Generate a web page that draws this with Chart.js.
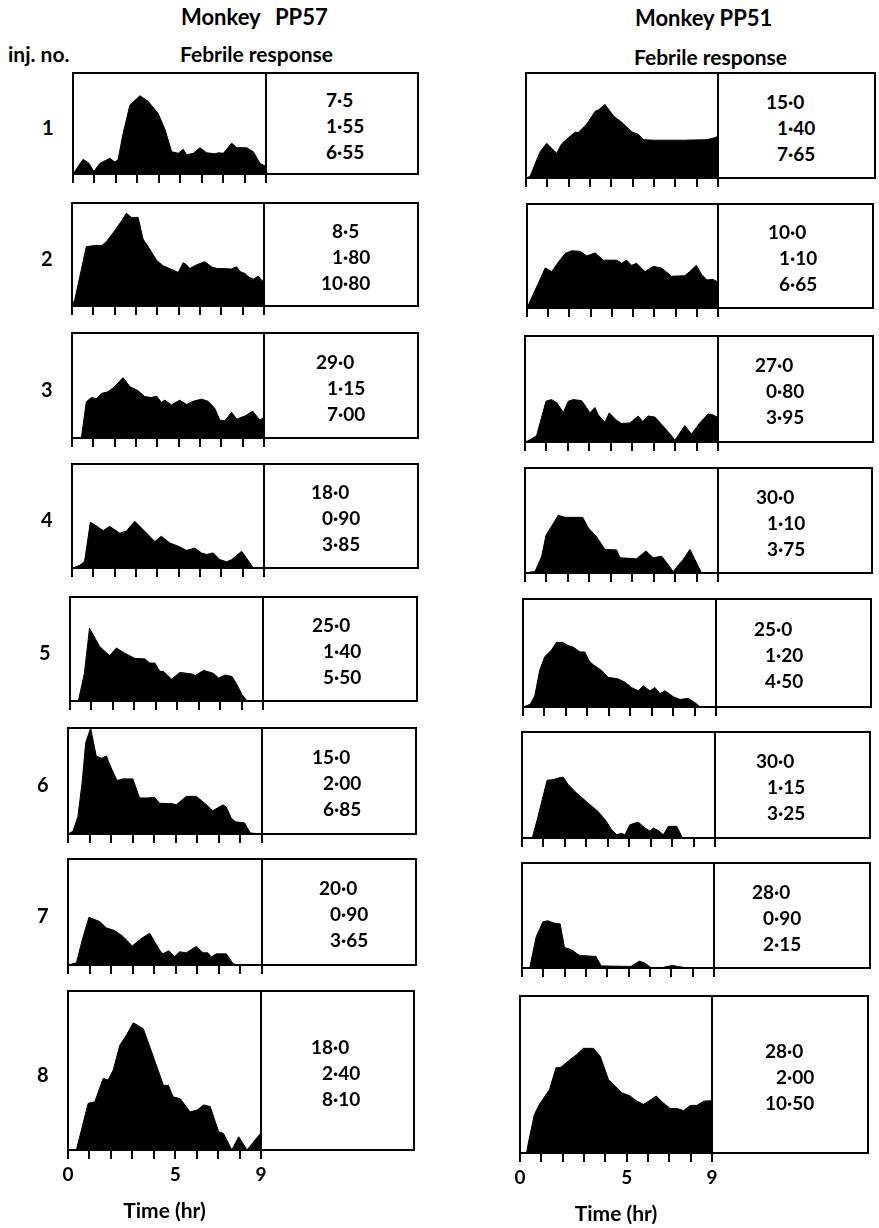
<!DOCTYPE html>
<html>
<head>
<meta charset="utf-8">
<script src="https://cdn.jsdelivr.net/npm/chart.js@4/dist/chart.umd.min.js"></script>
<style>
  html, body { margin: 0; padding: 0; background: #fff; }
  body { width: 879px; height: 1228px; position: relative; overflow: hidden;
         font-family: 'Lato', 'DejaVu Sans', sans-serif; font-weight: 700; color: #000; }
  .txt { position: absolute; white-space: pre; line-height: 22px; }
  .frame { position: absolute; border: 2px solid #000; box-sizing: border-box; }
  .holder { position: absolute; }
</style>
</head>
<body>
<script>
// ---- Data ---------------------------------------------------------------
const injections = ['1', '2', '3', '4', '5', '6', '7', '8'];
const hourTicks = [0, 1, 2, 3, 4, 5, 6, 7, 8, 9];
const labelledHours = [0, 5, 9];

// Figures printed beside each record: dose, peak rise (°C), fever index
const pp57Dose  = [7.5, 8.5, 29.0, 18.0, 25.0, 15.0, 20.0, 18.0];
const pp57Peak  = [1.55, 1.80, 1.15, 0.90, 1.40, 2.00, 0.90, 2.40];
const pp57Index = [6.55, 10.80, 7.00, 3.85, 5.50, 6.85, 3.65, 8.10];
const pp51Dose  = [15.0, 10.0, 27.0, 30.0, 25.0, 30.0, 28.0, 28.0];
const pp51Peak  = [1.40, 1.10, 0.80, 1.10, 1.20, 1.15, 0.90, 2.00];
const pp51Index = [7.65, 6.65, 3.95, 3.75, 4.50, 3.25, 2.15, 10.50];

// Temperature rise [hours after injection, °C]
const pp57Inj1 = [[0,0],[0.47,0.29],[0.75,0.21],[0.97,0.05],[1.25,0.21],[1.71,0.31],[1.95,0.24],[2.1,0.28],[2.34,0.81],[2.65,1.36],[3.12,1.55],[3.5,1.44],[3.97,1.2],[4.29,0.88],[4.6,0.44],[4.91,0.41],[5.14,0.49],[5.3,0.38],[5.61,0.41],[5.92,0.52],[6.23,0.42],[6.62,0.4],[6.78,0.42],[7.01,0.41],[7.4,0.61],[7.64,0.52],[8.1,0.52],[8.41,0.44],[8.72,0.21],[9,0.15]];
const pp57Inj2 = [[0,0],[0.13,0.12],[0.67,1.15],[1.14,1.18],[1.38,1.17],[1.61,1.25],[2.0,1.46],[2.32,1.65],[2.55,1.8],[2.79,1.72],[3.1,1.72],[3.33,1.3],[3.65,1.1],[3.96,0.89],[4.27,0.78],[4.74,0.7],[4.98,0.65],[5.21,0.84],[5.37,0.8],[5.52,0.73],[5.84,0.8],[6.23,0.86],[6.54,0.76],[6.78,0.73],[7.48,0.72],[7.72,0.76],[7.87,0.67],[8.11,0.63],[8.26,0.57],[8.5,0.52],[8.73,0.58],[8.89,0.5],[9,0.47]];
const pp57Inj3 = [[0,0],[0.44,0],[0.67,0.69],[0.91,0.77],[1.14,0.75],[1.38,0.85],[1.69,0.88],[2.0,0.98],[2.39,1.15],[2.71,0.98],[3.1,0.9],[3.41,0.79],[3.72,0.77],[3.96,0.8],[4.19,0.68],[4.35,0.72],[4.66,0.63],[5.05,0.72],[5.37,0.64],[5.68,0.7],[6.07,0.74],[6.38,0.7],[6.7,0.56],[6.93,0.34],[7.17,0.33],[7.48,0.49],[7.72,0.36],[8.11,0.42],[8.47,0.51],[8.81,0.34],[9,0.4]];
const pp57Inj4 = [[0,0],[0.36,0.05],[0.59,0.13],[0.86,0.88],[1.06,0.83],[1.46,0.72],[1.77,0.8],[2.24,0.67],[2.55,0.71],[2.94,0.9],[3.33,0.74],[3.88,0.51],[4.19,0.61],[4.59,0.48],[4.98,0.42],[5.37,0.34],[5.76,0.38],[6.07,0.29],[6.31,0.26],[6.62,0.29],[6.93,0.16],[7.25,0.12],[7.48,0.16],[7.95,0.32],[8.18,0.19],[8.5,0],[9,0]];
const pp57Inj5 = [[0,0],[0.39,0],[0.67,0.53],[0.91,1.4],[1.38,1.05],[1.85,0.87],[2.16,1.02],[2.55,0.92],[3.02,0.82],[3.49,0.81],[3.72,0.73],[3.96,0.73],[4.19,0.57],[4.35,0.57],[4.74,0.42],[5.13,0.55],[5.68,0.52],[5.84,0.49],[6.23,0.59],[6.7,0.53],[6.93,0.44],[7.25,0.5],[7.56,0.47],[7.79,0.31],[8.03,0.12],[8.26,0],[9,0]];
const pp57Inj6 = [[0,0],[0.23,0.05],[0.46,0.33],[0.66,0.99],[0.82,1.72],[1.05,2.0],[1.31,1.47],[1.55,1.43],[1.78,1.47],[2.0,1.25],[2.27,1.01],[2.55,1.04],[3.01,1.04],[3.32,0.68],[3.71,0.68],[4.02,0.69],[4.25,0.58],[4.87,0.57],[5.02,0.55],[5.49,0.71],[5.95,0.71],[6.34,0.58],[6.72,0.44],[7.19,0.55],[7.34,0.51],[7.57,0.3],[7.77,0.23],[8.19,0.21],[8.45,0.02],[9,0]];
const pp57Inj7 = [[0,0],[0.39,0.04],[0.66,0.47],[0.97,0.9],[1.47,0.82],[1.78,0.7],[2.16,0.65],[2.55,0.54],[2.98,0.36],[3.4,0.5],[3.79,0.6],[4.25,0.28],[4.4,0.21],[4.68,0.27],[4.95,0.16],[5.18,0.25],[5.49,0.23],[5.95,0.35],[6.26,0.23],[6.49,0.23],[6.65,0.15],[6.88,0.21],[7.34,0.21],[7.65,0.03],[7.8,0],[9,0]];
const pp57Inj8 = [[0,0],[0.39,0],[0.94,0.88],[1.25,0.91],[1.64,1.35],[1.87,1.32],[2.11,1.51],[2.42,1.98],[2.73,2.17],[3.04,2.4],[3.51,2.29],[3.98,1.76],[4.45,1.22],[4.68,1.22],[4.91,1.0],[5.23,0.97],[5.69,0.72],[6.01,0.75],[6.32,0.85],[6.63,0.82],[7.02,0.35],[7.25,0.31],[7.64,0],[7.96,0.25],[8.35,0],[8.97,0.31],[9,0.31]];

const pp51Inj1 = [[0,0],[0.19,0.03],[0.66,0.5],[0.97,0.66],[1.44,0.47],[1.67,0.65],[1.99,0.77],[2.3,0.87],[2.46,0.87],[2.85,1.03],[3.24,1.27],[3.4,1.3],[3.71,1.4],[4.1,1.18],[4.49,1.06],[4.96,0.88],[5.27,0.83],[5.51,0.73],[5.98,0.72],[7.39,0.72],[8.48,0.73],[8.87,0.77],[9,0.8]];
const pp51Inj2 = [[0,0],[0.86,0.77],[1.17,0.7],[1.49,0.89],[1.8,1.05],[2.11,1.1],[2.5,1.09],[2.82,1.0],[3.21,1.06],[3.6,0.92],[4.23,0.92],[4.46,0.86],[4.69,0.92],[4.93,0.82],[5.16,0.86],[5.56,0.7],[5.95,0.8],[6.34,0.77],[6.81,0.61],[7.43,0.62],[7.67,0.7],[7.98,0.82],[8.22,0.65],[8.48,0.54],[8.76,0.55],[9,0.5]];
const pp51Inj3 = [[0,0],[0.23,0.04],[0.54,0.12],[0.98,0.77],[1.24,0.8],[1.48,0.74],[1.79,0.56],[2.02,0.77],[2.25,0.8],[2.64,0.78],[2.87,0.65],[3.03,0.55],[3.26,0.65],[3.42,0.51],[3.73,0.37],[3.93,0.55],[4.27,0.41],[4.5,0.35],[4.89,0.36],[5.28,0.49],[5.48,0.39],[5.75,0.49],[6.06,0.47],[6.44,0.3],[6.83,0.12],[6.99,0.03],[7.45,0.31],[7.76,0.15],[8.15,0.36],[8.54,0.53],[8.77,0.51],[9,0.46]];
const pp51Inj4 = [[0,0],[0.47,0.03],[0.78,0.32],[0.98,0.72],[1.24,0.89],[1.55,1.1],[1.86,1.06],[2.25,1.06],[2.69,1.06],[2.95,0.86],[3.34,0.69],[3.73,0.45],[4.27,0.44],[4.43,0.29],[5.2,0.27],[5.43,0.35],[5.64,0.42],[5.98,0.29],[6.37,0.32],[6.6,0.2],[6.91,0.03],[7.38,0.26],[7.69,0.45],[7.92,0.26],[8.23,0],[9,0]];
const pp51Inj5 = [[0,0],[0.34,0.05],[0.55,0.21],[0.78,0.68],[1.01,0.93],[1.32,1.05],[1.56,1.2],[1.87,1.19],[2.1,1.14],[2.34,1.11],[2.65,1.02],[2.88,1.02],[3.12,0.83],[3.43,0.74],[3.66,0.68],[3.97,0.55],[4.44,0.52],[4.75,0.46],[5.06,0.36],[5.37,0.3],[5.61,0.39],[5.92,0.3],[6.15,0.36],[6.39,0.25],[6.62,0.3],[7.01,0.19],[7.32,0.14],[7.71,0.16],[8.02,0.08],[8.26,0],[9,0]];
const pp51Inj6 = [[0,0],[0.48,0],[0.75,0.41],[1.17,1.09],[1.45,1.1],[1.68,1.13],[1.92,1.15],[2.15,1.01],[2.54,0.85],[3.08,0.66],[3.55,0.5],[3.94,0.31],[4.17,0.16],[4.41,0.06],[4.64,0.09],[4.8,0.06],[5.03,0.25],[5.42,0.3],[5.73,0.19],[5.97,0.13],[6.12,0.19],[6.36,0.14],[6.59,0.06],[6.82,0.22],[7.21,0.22],[7.49,0],[9,0]];
const pp51Inj7 = [[0,0],[0.36,0],[0.67,0.6],[0.98,0.88],[1.21,0.9],[1.45,0.86],[1.79,0.84],[1.99,0.39],[2.31,0.35],[2.69,0.24],[3.47,0.22],[3.71,0.04],[5.11,0.03],[5.5,0.13],[5.73,0.1],[6.04,0.01],[6.59,0.01],[7.06,0.05],[7.29,0.03],[7.76,0],[9,0]];
const pp51Inj8 = [[0,0],[0.31,0],[0.39,0.19],[0.67,0.73],[0.91,0.93],[1.38,1.21],[1.69,1.63],[1.92,1.64],[2.27,1.76],[2.66,1.88],[2.97,2.0],[3.44,2.0],[3.76,1.85],[4.15,1.4],[4.46,1.28],[4.77,1.15],[5.16,1.09],[5.48,0.99],[5.79,0.93],[6.03,0.99],[6.39,1.09],[6.65,0.98],[7.04,0.85],[7.36,0.85],[7.67,0.81],[7.98,0.91],[8.29,0.91],[8.61,0.99],[8.95,1.0],[9,1.0]];

const pp57Curves = [pp57Inj1, pp57Inj2, pp57Inj3, pp57Inj4, pp57Inj5, pp57Inj6, pp57Inj7, pp57Inj8];
const pp51Curves = [pp51Inj1, pp51Inj2, pp51Inj3, pp51Inj4, pp51Inj5, pp51Inj6, pp51Inj7, pp51Inj8];

// ---- Page layout (pixels) ----------------------------------------------
// L/D/R: plot left, plot|figures divider, box right; T/B: box top/bottom
const leftBoxes = [
  {L:73, D:266, R:418, T:73,  B:174},
  {L:72, D:264, R:418, T:203, B:306},
  {L:72, D:264, R:418, T:333, B:438},
  {L:72, D:264, R:418, T:464, B:568},
  {L:70, D:263, R:417, T:597, B:701},
  {L:68, D:262, R:416, T:728, B:834},
  {L:68, D:262, R:416, T:859, B:965},
  {L:68, D:261, R:414, T:991, B:1150}
];
const rightBoxes = [
  {L:526, D:718, R:875, T:73,  B:178},
  {L:527, D:718, R:873, T:204, B:308},
  {L:525, D:718, R:873, T:336, B:442},
  {L:525, D:718, R:872, T:468, B:573},
  {L:523, D:716, R:871, T:599, B:707},
  {L:522, D:715, R:870, T:732, B:838},
  {L:522, D:714, R:870, T:863, B:968},
  {L:520, D:712, R:868, T:996, B:1153}
];
const leftDots  = [337, 343, 338, 333, 334, 334, 341, 333];
const rightDots = [788, 790, 777, 778, 776, 778, 774, 787];

Chart.defaults.font.family = "'Lato', 'DejaVu Sans', sans-serif";
Chart.defaults.font.weight = 'bold';
Chart.defaults.color = '#000';

function addText(str, x, y, opts) {
  const d = document.createElement('div');
  d.className = 'txt';
  d.textContent = str;
  d.style.fontSize = (opts && opts.size ? opts.size : 18) + 'px';
  document.body.appendChild(d);
  const w = d.getBoundingClientRect().width;
  const align = opts && opts.align ? opts.align : 'center';
  const left = align === 'center' ? x - w / 2 : align === 'right' ? x - w : x;
  d.style.left = Math.round(left) + 'px';
  d.style.top = Math.round(y - 11) + 'px';
  return d;
}

function fmt(v, digits) { return v.toFixed(digits).replace('.', '\u00B7'); }

// Number column aligned on the decimal point
function addFigure(v, digits, dotX, cy) {
  const parts = fmt(v, digits).split('\u00B7');
  addText(parts[0], dotX, cy, {align: 'right', size: 19});
  addText('\u00B7' + parts[1], dotX, cy, {align: 'left', size: 19});
}

const dividerPlugin = {
  id: 'divider',
  afterDraw(chart) {
    const a = chart.chartArea, ctx = chart.ctx;
    ctx.save();
    ctx.strokeStyle = '#000';
    ctx.lineWidth = 2;
    ctx.beginPath();
    ctx.moveTo(a.right, a.top - 1);
    ctx.lineTo(a.right, a.bottom + 1);
    ctx.stroke();
    ctx.restore();
  }
};

function addPanel(box, curve, yMax, withAxis) {
  const frame = document.createElement('div');
  frame.className = 'frame';
  frame.style.left = (box.L - 1) + 'px';
  frame.style.top = (box.T - 1) + 'px';
  frame.style.width = (box.R - box.L + 2) + 'px';
  frame.style.height = (box.B - box.T + 2) + 'px';
  document.body.appendChild(frame);

  const holder = document.createElement('div');
  holder.className = 'holder';
  const canvas = document.createElement('canvas');
  canvas.width = box.D - box.L + 30;
  canvas.height = box.B - box.T + (withAxis ? 70 : 20);
  holder.appendChild(canvas);
  document.body.appendChild(holder);

  const chart = new Chart(canvas, {
    type: 'line',
    data: {
      datasets: [{
        data: curve.map(p => ({x: p[0], y: p[1]})),
        fill: 'origin',
        backgroundColor: '#000',
        borderColor: '#000',
        borderWidth: 1,
        pointRadius: 0,
        tension: 0
      }]
    },
    options: {
      responsive: false,
      maintainAspectRatio: false,
      animation: false,
      events: [],
      layout: {padding: {left: 14, right: 14, top: 4, bottom: 0}},
      plugins: {legend: {display: false}, tooltip: {enabled: false}},
      scales: {
        x: {
          type: 'linear', min: 0, max: 9, position: 'bottom',
          border: {display: false},
          grid: {drawOnChartArea: false, drawTicks: true, tickLength: 9, lineWidth: 2, color: '#000'},
          afterBuildTicks: s => { s.ticks = hourTicks.map(v => ({value: v})); },
          ticks: {
            autoSkip: false, maxRotation: 0, minRotation: 0, padding: 6, color: '#000',
            font: {size: 19, weight: 'bold', lineHeight: 1},
            callback: v => (withAxis && labelledHours.includes(v)) ? String(v) : ''
          },
          title: {
            display: withAxis, text: 'Time (hr)', color: '#000',
            font: {size: 21, weight: 'bold', lineHeight: 1},
            padding: {top: 11, bottom: 2}
          }
        },
        y: {display: false, min: 0, max: yMax}
      }
    },
    plugins: [dividerPlugin]
  });

  let a = chart.chartArea;
  const W = canvas.width + ((box.D - box.L) - (a.right - a.left));
  const H = canvas.height + ((box.B - box.T) - (a.bottom - a.top));
  chart.resize(Math.round(W), Math.round(H));
  a = chart.chartArea;
  holder.style.left = Math.round(box.L - a.left) + 'px';
  holder.style.top = Math.round(box.T - a.top) + 'px';
}

function build() {
  // headings
  addText('Monkey', 221, 17, {size: 22});
  addText('PP57', 301, 17, {size: 22});
  addText('Monkey PP51', 704, 18, {size: 22});
  addText('inj. no.', 39, 54, {size: 21});
  addText('Febrile response', 257, 54, {size: 21});
  addText('Febrile response', 711, 57, {size: 21});

  injections.forEach((inj, i) => {
    const last = i === injections.length - 1;
    const lb = leftBoxes[i], rb = rightBoxes[i];
    const yMax = last ? 3.0 : 2.0;

    addPanel(lb, pp57Curves[i], yMax, last);
    addPanel(rb, pp51Curves[i], yMax, last);

    const lc = (lb.T + lb.B) / 2 + 2;
    const rc = (rb.T + rb.B) / 2 + 2;
    addText(inj, lb.L - 25, lc + 1, {size: 20});

    addFigure(pp57Dose[i], 1, leftDots[i], lc - 26);
    addFigure(pp57Peak[i], 2, leftDots[i], lc);
    addFigure(pp57Index[i], 2, leftDots[i], lc + 26);

    addFigure(pp51Dose[i], 1, rightDots[i], rc - 26);
    addFigure(pp51Peak[i], 2, rightDots[i], rc);
    addFigure(pp51Index[i], 2, rightDots[i], rc + 26);
  });
}

if (document.fonts && document.fonts.load) {
  document.fonts.load("bold 18px 'Lato'").then(build, build);
} else {
  build();
}
</script>
</body>
</html>
